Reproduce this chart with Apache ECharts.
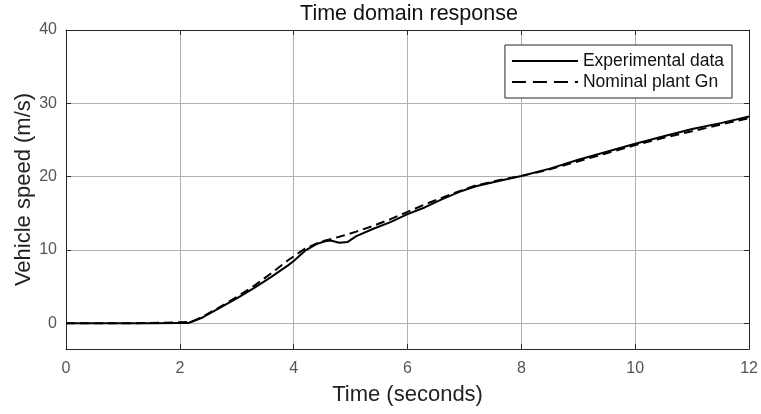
<!DOCTYPE html>
<html>
<head>
<meta charset="utf-8">
<script src="https://cdn.jsdelivr.net/npm/echarts@6/dist/echarts.min.js"></script>
<style>
  html, body { margin: 0; padding: 0; background: #fff; }
  #chart { width: 761px; height: 414px; }
</style>
</head>
<body>
<div id="chart"></div>
<script>
// time (s) and speed (m/s)
var expTime = [0, 0.5, 1, 1.5, 2.0, 2.15, 2.4, 2.7, 3.0, 3.3, 3.6, 3.9, 4.0, 4.2, 4.4, 4.55, 4.65, 4.8, 4.95, 5.1, 5.4, 5.7, 6.0, 6.3, 6.6, 6.9, 7.2, 7.6, 8.0, 8.5, 9.0, 9.5, 10.0, 10.5, 11.0, 11.5, 12.0];
var expSpeed = [0, 0, 0, 0, 0.05, 0.05, 0.8, 2.1, 3.4, 4.8, 6.3, 7.9, 8.5, 9.9, 10.8, 11.2, 11.3, 11.0, 11.1, 11.9, 12.9, 13.8, 14.9, 15.8, 16.9, 17.9, 18.7, 19.4, 20.1, 21.1, 22.3, 23.4, 24.5, 25.5, 26.5, 27.3, 28.2];

var nomTime = [0, 0.5, 1, 1.5, 2.0, 2.2, 2.4, 2.7, 3.0, 3.3, 3.6, 3.9, 4.2, 4.5, 4.8, 5.1, 5.4, 5.7, 6.0, 6.3, 6.6, 6.9, 7.2, 7.6, 8.0, 8.5, 9.0, 9.5, 10.0, 10.5, 11.0, 11.5, 12.0];
var nomSpeed = [0, 0, 0, 0.05, 0.15, 0.2, 0.9, 2.2, 3.6, 5.1, 6.8, 8.6, 10.2, 11.2, 11.8, 12.5, 13.3, 14.2, 15.2, 16.2, 17.1, 18.0, 18.8, 19.5, 20.1, 21.0, 22.1, 23.2, 24.3, 25.3, 26.2, 27.1, 28.0];

var yTicks = [0, 10, 20, 30, 40];

function pairs(xs, ys) {
  var out = [];
  for (var i = 0; i < xs.length; i++) {
    out.push([xs[i], ys[i]]);
  }
  return out;
}

var font = 'Liberation Sans, Arial, sans-serif';
var gridColor = '#b0b0b0';
var boxColor = '#262626';

var option = {
  backgroundColor: '#fff',
  animation: false,
  title: {
    text: 'Time domain response',
    left: 409,
    top: 0,
    textAlign: 'center',
    padding: [3, 0],
    textStyle: { fontFamily: font, fontSize: 21.5, fontWeight: 'normal', color: '#111' }
  },
  legend: {
    orient: 'vertical',
    right: 29,
    top: 45,
    padding: [7, 8, 7, 6],
    itemWidth: 66,
    itemHeight: 14,
    itemGap: 3,
    borderColor: boxColor,
    borderWidth: 1,
    backgroundColor: '#fff',
    itemStyle: { opacity: 0 },
    textStyle: { fontFamily: font, fontSize: 17.5, color: '#111' },
    data: [
      { name: 'Experimental data' },
      { name: 'Nominal plant Gn', lineStyle: { type: [14, 7] } }
    ]
  },
  grid: { left: 66, right: 9, top: 30, bottom: 65 },
  xAxis: [{
    type: 'value',
    min: 0,
    max: 12,
    interval: 2,
    name: 'Time (seconds)',
    nameLocation: 'middle',
    nameGap: 35,
    nameMoveOverlap: false,
    nameTextStyle: { fontFamily: font, fontSize: 22, color: '#222' },
    axisLine: { show: true, onZero: false, lineStyle: { color: boxColor, width: 1 } },
    axisTick: { show: true, inside: true, length: 5, lineStyle: { color: boxColor } },
    axisLabel: { margin: 12, fontFamily: font, fontSize: 16, color: '#555' },
    splitLine: { show: true, lineStyle: { color: gridColor, width: 1 } }
  }, {
    type: 'value',
    position: 'top',
    min: 0,
    max: 12,
    interval: 2,
    axisLine: { show: true, onZero: false, lineStyle: { color: boxColor, width: 1 } },
    axisTick: { show: true, inside: true, length: 5, lineStyle: { color: boxColor } },
    axisLabel: { show: false },
    splitLine: { show: false }
  }],
  yAxis: [{
    type: 'value',
    min: -3.5,
    max: 40,
    name: 'Vehicle speed (m/s)',
    nameLocation: 'middle',
    nameGap: 31,
    nameMoveOverlap: false,
    nameTextStyle: { fontFamily: font, fontSize: 22, color: '#222' },
    axisLine: { show: true, onZero: false, lineStyle: { color: boxColor, width: 1 } },
    axisTick: { show: true, inside: true, length: 5, customValues: yTicks, lineStyle: { color: boxColor } },
    axisLabel: { margin: 9, customValues: yTicks, fontFamily: font, fontSize: 16, color: '#555' },
    splitLine: { show: true, lineStyle: { color: gridColor, width: 1 } }
  }, {
    type: 'value',
    position: 'right',
    min: -3.5,
    max: 40,
    axisLine: { show: true, onZero: false, lineStyle: { color: boxColor, width: 1 } },
    axisTick: { show: true, inside: true, length: 5, customValues: yTicks, lineStyle: { color: boxColor } },
    axisLabel: { show: false },
    splitLine: { show: false }
  }],
  series: [{
    name: 'Experimental data',
    type: 'line',
    symbol: 'none',
    data: pairs(expTime, expSpeed),
    lineStyle: { color: '#000', width: 2, type: 'solid' },
    itemStyle: { color: '#000' },
    z: 3
  }, {
    name: 'Nominal plant Gn',
    type: 'line',
    symbol: 'none',
    data: pairs(nomTime, nomSpeed),
    lineStyle: { color: '#000', width: 2, type: [9, 5] },
    itemStyle: { color: '#000' },
    z: 2
  }]
};

var myChart = echarts.init(document.getElementById('chart'));
myChart.setOption(option);
</script>
</body>
</html>
